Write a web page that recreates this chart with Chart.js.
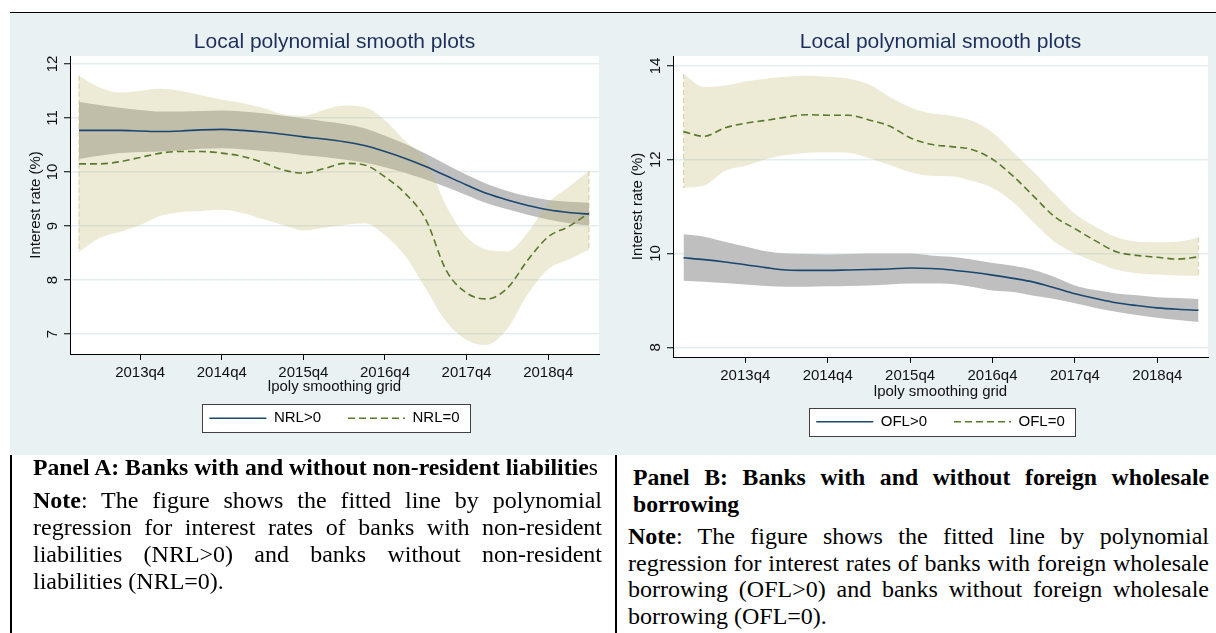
<!DOCTYPE html>
<html>
<head>
<meta charset="utf-8">
<script src="https://cdn.jsdelivr.net/npm/chart.js@4.4.1/dist/chart.umd.min.js"></script>
<style>
  html, body { margin: 0; padding: 0; background: #fff; }
  body { width: 1216px; height: 633px; position: relative; overflow: hidden; }
  .rule-top { position: absolute; left: 10px; top: 12px; width: 1206px; height: 1px; background: #000; }
  .panel { position: absolute; top: 13px; width: 603px; height: 442px; background: rgb(233,241,243); }
  .panel canvas { display: block; }
  .vrule { position: absolute; top: 455px; width: 2px; height: 178px; background: #000; }
  .cap { position: absolute; font-family: "Liberation Serif", "Times New Roman", serif; color: #000; font-size: 24px; line-height: 27px; }
  .cap .ln { white-space: nowrap; }
  .cap .j { text-align: justify; text-align-last: justify; }
  .cap .ttl { font-size: 23.7px; }
</style>
</head>
<body>
<div class="rule-top"></div>
<div class="panel" style="left:10px;"><canvas id="panelA" width="603" height="442"></canvas></div>
<div class="panel" style="left:613px;"><canvas id="panelB" width="603" height="442"></canvas></div>
<div class="vrule" style="left:10px;"></div>
<div class="vrule" style="left:615px;"></div>

<div class="cap" style="left:33px;top:454px;width:569px;">
  <div class="ln ttl"><b>Panel A: Banks with and without non-resident liabilitie</b>s</div>
</div>
<div class="cap" style="left:33px;top:487px;width:569px;">
  <div class="j"><b>Note</b>: The figure shows the fitted line by polynomial</div>
  <div class="j">regression for interest rates of banks with non-resident</div>
  <div class="j">liabilities (NRL&gt;0) and banks without non-resident</div>
  <div class="ln">liabilities (NRL=0).</div>
</div>

<div class="cap" style="left:633px;top:464px;width:576px;">
  <div class="j ttl"><b>Panel B: Banks with and without foreign wholesale</b></div>
  <div class="ln ttl"><b>borrowing</b></div>
</div>
<div class="cap" style="left:628px;top:523px;width:581px;line-height:26.7px;">
  <div class="j"><b>Note</b>: The figure shows the fitted line by polynomial</div>
  <div class="j">regression for interest rates of banks with foreign wholesale</div>
  <div class="j">borrowing (OFL&gt;0) and banks without foreign wholesale</div>
  <div class="ln">borrowing (OFL=0).</div>
</div>

<script>
// Smoothing grid: quarters counted from 2013q1 (0) to 2019q2 (25)
const gridQuarter = [0, 1, 2, 3, 4, 5, 6, 7, 8, 9, 10, 11, 12, 13, 14, 15, 16, 17, 18, 19, 20, 21, 22, 23, 24, 25];
const xTickQuarter = [3, 7, 11, 15, 19, 23];
const xTickLabels = ['2013q4', '2014q4', '2015q4', '2016q4', '2017q4', '2018q4'];

// Panel A: non-resident liabilities
const nrlPosFit = [10.77, 10.77, 10.77, 10.76, 10.75, 10.76, 10.78, 10.79, 10.77, 10.74, 10.70, 10.65, 10.61, 10.56, 10.49, 10.38, 10.25, 10.10, 9.93, 9.76, 9.60, 9.48, 9.38, 9.30, 9.25, 9.22];
const nrlPosHi  = [11.30, 11.24, 11.19, 11.15, 11.12, 11.12, 11.13, 11.14, 11.12, 11.09, 11.04, 10.99, 10.94, 10.89, 10.81, 10.67, 10.52, 10.34, 10.14, 9.95, 9.78, 9.65, 9.55, 9.48, 9.45, 9.43];
const nrlPosLo  = [10.24, 10.30, 10.35, 10.37, 10.38, 10.40, 10.43, 10.44, 10.42, 10.39, 10.36, 10.31, 10.28, 10.23, 10.17, 10.09, 9.98, 9.86, 9.72, 9.57, 9.42, 9.31, 9.21, 9.12, 9.05, 9.01];
const nrlZeroFit = [10.15, 10.15, 10.19, 10.27, 10.35, 10.38, 10.38, 10.35, 10.29, 10.18, 10.04, 9.98, 10.06, 10.16, 10.13, 9.91, 9.60, 9.12, 8.18, 7.76, 7.65, 7.85, 8.37, 8.80, 8.99, 9.24];
const nrlZeroHi  = [11.78, 11.57, 11.47, 11.50, 11.54, 11.50, 11.42, 11.34, 11.28, 11.19, 11.07, 11.04, 11.15, 11.23, 11.20, 10.96, 10.57, 10.22, 9.37, 8.80, 8.56, 8.53, 8.88, 9.42, 9.72, 10.02];
const nrlZeroLo  = [8.52, 8.78, 8.89, 9.02, 9.19, 9.26, 9.28, 9.30, 9.24, 9.13, 9.02, 8.92, 8.97, 9.02, 9.05, 8.83, 8.44, 7.84, 7.23, 6.89, 6.80, 7.10, 7.74, 8.20, 8.38, 8.56];
const panelATicks = [7, 8, 9, 10, 11, 12];

// Panel B: foreign wholesale borrowing
const oflPosFit = [9.91, 9.87, 9.82, 9.76, 9.70, 9.65, 9.64, 9.64, 9.65, 9.66, 9.67, 9.69, 9.68, 9.65, 9.60, 9.54, 9.47, 9.39, 9.27, 9.14, 9.04, 8.95, 8.89, 8.84, 8.81, 8.79];
const oflPosHi  = [10.41, 10.36, 10.25, 10.15, 10.05, 10.00, 9.99, 9.98, 9.99, 10.00, 10.00, 10.00, 9.96, 9.93, 9.87, 9.80, 9.74, 9.65, 9.50, 9.32, 9.22, 9.15, 9.11, 9.07, 9.05, 9.03];
const oflPosLo  = [9.42, 9.40, 9.37, 9.34, 9.31, 9.29, 9.29, 9.30, 9.31, 9.32, 9.34, 9.36, 9.36, 9.35, 9.29, 9.21, 9.18, 9.10, 9.03, 8.94, 8.84, 8.76, 8.69, 8.63, 8.58, 8.54];
const oflZeroFit = [12.60, 12.50, 12.68, 12.78, 12.84, 12.91, 12.96, 12.95, 12.95, 12.85, 12.72, 12.47, 12.33, 12.28, 12.22, 12.01, 11.65, 11.22, 10.79, 10.53, 10.27, 10.04, 9.96, 9.92, 9.88, 9.93];
const oflZeroHi  = [13.83, 13.55, 13.58, 13.67, 13.73, 13.77, 13.79, 13.77, 13.73, 13.61, 13.34, 13.12, 12.99, 12.94, 12.83, 12.58, 12.16, 11.74, 11.28, 10.85, 10.57, 10.35, 10.25, 10.24, 10.25, 10.34];
const oflZeroLo  = [11.40, 11.45, 11.76, 11.87, 12.01, 12.10, 12.15, 12.16, 12.15, 12.04, 11.89, 11.74, 11.66, 11.65, 11.55, 11.40, 11.10, 10.66, 10.25, 10.00, 9.82, 9.66, 9.58, 9.55, 9.53, 9.52];
const panelBTicks = [8, 10, 12, 14];

const NAVY = '#1a476f';
const OLIVE = '#587a2c';
const BAND_GRAY = '#bfbfbf';
const BAND_BEIGE = 'rgba(195,185,120,0.30)';
const BAND_BEIGE_EDGE = 'rgba(200,188,130,0.55)';
const GRID = 'rgb(228,237,240)';
const TITLE_COLOR = '#1e2e5c';
const SANS = '"Liberation Sans", Arial, Helvetica, sans-serif';

Chart.defaults.font.family = SANS;
Chart.defaults.color = '#111';

// White plot region and boxed, white legend
const panelFrame = {
  id: 'panelFrame',
  beforeDraw(chart) {
    const { ctx, chartArea: a } = chart;
    ctx.save();
    ctx.fillStyle = '#fff';
    ctx.fillRect(a.left, a.top, a.right - a.left, a.bottom - a.top);
    const boxes = chart.legend && chart.legend.legendHitBoxes;
    if (boxes && boxes.length) {
      const first = boxes[0], last = boxes[boxes.length - 1];
      const x0 = Math.round(first.left - 7) + 0.5;
      const x1 = Math.round(last.left + last.width + 10) + 0.5;
      const cy = first.top + first.height / 2;
      const y0 = Math.round(cy - 14) + 0.5;
      ctx.fillRect(x0, y0, x1 - x0, 28);
      ctx.strokeStyle = '#404040';
      ctx.lineWidth = 1;
      ctx.strokeRect(x0, y0, x1 - x0, 28);
    }
    ctx.restore();
  }
};

// Dashed closing edges at both ends of the wide confidence band
const bandEdges = {
  id: 'bandEdges',
  afterDatasetDraw(chart, args) {
    if (args.index !== 3) return;
    const hi = chart.data.datasets[2].data;
    const lo = chart.data.datasets[3].data;
    const xs = chart.scales.x, ys = chart.scales.y;
    const ctx = chart.ctx;
    ctx.save();
    ctx.strokeStyle = BAND_BEIGE_EDGE;
    ctx.lineWidth = 1.3;
    ctx.setLineDash([5, 3]);
    [0, hi.length - 1].forEach(i => {
      const px = xs.getPixelForValue(hi[i].x);
      ctx.beginPath();
      ctx.moveTo(px, ys.getPixelForValue(hi[i].y));
      ctx.lineTo(px, ys.getPixelForValue(lo[i].y));
      ctx.stroke();
    });
    ctx.restore();
  }
};

function toPoints(values) {
  return gridQuarter.map((q, i) => ({ x: q, y: values[i] }));
}

function band(values, color, fillTarget, order) {
  return {
    label: '',
    data: toPoints(values),
    borderWidth: 0,
    pointRadius: 0,
    backgroundColor: color,
    fill: fillTarget,
    order: order,
    cubicInterpolationMode: 'monotone'
  };
}

function fitLine(label, values, color, dash) {
  return {
    label: label,
    data: toPoints(values),
    borderColor: color,
    borderWidth: 1.6,
    borderDash: dash,
    pointRadius: 0,
    fill: false,
    order: 0,
    legendLine: true,
    cubicInterpolationMode: 'monotone'
  };
}

function buildPanel(id, s) {
  const datasets = [
    band(s.posHi, BAND_GRAY, '+1', 6),
    band(s.posLo, BAND_GRAY, false, 6),
    band(s.zeroHi, BAND_BEIGE, '+1', 5),
    band(s.zeroLo, BAND_BEIGE, false, 5),
    fitLine(s.posLabel, s.posFit, NAVY, []),
    fitLine(s.zeroLabel, s.zeroFit, OLIVE, [7, 4])
  ];

  new Chart(document.getElementById(id), {
    type: 'line',
    data: { datasets },
    plugins: [panelFrame, bandEdges],
    options: {
      responsive: false,
      animation: false,
      events: [],
      layout: { autoPadding: false, padding: { top: 0, left: 0, right: s.padRight, bottom: s.padBottom } },
      plugins: {
        tooltip: { enabled: false },
        title: {
          display: true,
          fullSize: false,
          text: 'Local polynomial smooth plots',
          color: TITLE_COLOR,
          font: { size: 21, weight: 'normal', family: SANS },
          padding: { top: 16.4, bottom: 1.4 }
        },
        legend: {
          display: true,
          position: 'bottom',
          fullSize: false,
          labels: {
            font: { size: 15, family: SANS },
            color: '#111',
            usePointStyle: true,
            pointStyleWidth: 57,
            padding: 27,
            generateLabels(chart) {
              return chart.data.datasets
                .map((ds, i) => ({ ds, i }))
                .filter(o => o.ds.legendLine)
                .map(o => ({
                  text: o.ds.label,
                  datasetIndex: o.i,
                  pointStyle: 'line',
                  strokeStyle: o.ds.borderColor,
                  fillStyle: o.ds.borderColor,
                  lineWidth: 1.6,
                  lineDash: o.ds.borderDash,
                  hidden: false
                }));
            }
          }
        }
      },
      scales: {
        x: {
          type: 'linear',
          position: 'bottom',
          min: s.xMin,
          max: s.xMax,
          afterBuildTicks: (sc) => { sc.ticks = xTickQuarter.map(v => ({ value: v })); },
          afterFit: (sc) => { sc.height = s.xHeight; },
          ticks: {
            autoSkip: false,
            maxRotation: 0,
            padding: s.xTickPad,
            color: '#111',
            font: { size: 15 },
            callback: (v) => xTickLabels[xTickQuarter.indexOf(v)]
          },
          grid: { drawOnChartArea: false, drawTicks: true, tickLength: 6, tickColor: '#000', tickWidth: 1 },
          border: { display: true, color: '#000', width: 1 },
          title: {
            display: true,
            text: 'lpoly smoothing grid',
            color: '#111',
            font: { size: 15 },
            padding: { top: 0, bottom: s.xTitlePad }
          }
        },
        y: {
          type: 'linear',
          position: 'left',
          min: s.yMin,
          max: s.yMax,
          afterBuildTicks: (sc) => { sc.ticks = s.yTicks.map(v => ({ value: v })); },
          afterFit: (sc) => { sc.width = 60; },
          ticks: {
            autoSkip: false,
            minRotation: 90,
            maxRotation: 90,
            crossAlign: 'center',
            padding: 3,
            color: '#111',
            font: { size: 15 }
          },
          grid: { color: GRID, lineWidth: 1.5, drawTicks: true, tickLength: 6, tickColor: '#000', tickWidth: 1 },
          border: { display: true, color: '#000', width: 1 },
          title: {
            display: true,
            text: 'Interest rate (%)',
            color: '#111',
            font: { size: 15 },
            padding: { top: s.yTitlePad, bottom: 0 }
          }
        }
      }
    }
  });
}

buildPanel('panelA', {
  posLabel: 'NRL>0', zeroLabel: 'NRL=0',
  posFit: nrlPosFit, posHi: nrlPosHi, posLo: nrlPosLo,
  zeroFit: nrlZeroFit, zeroHi: nrlZeroHi, zeroLo: nrlZeroLo,
  yTicks: panelATicks, yMin: 6.63, yMax: 12.148,
  xMin: -0.44, xMax: 25.49,
  padRight: 14, padBottom: 19.2,
  xHeight: 29.8, xTickPad: 3.5, xTitlePad: -12.2, yTitlePad: 16.5
});

buildPanel('panelB', {
  posLabel: 'OFL>0', zeroLabel: 'OFL=0',
  posFit: oflPosFit, posHi: oflPosHi, posLo: oflPosLo,
  zeroFit: oflZeroFit, zeroHi: oflZeroHi, zeroLo: oflZeroLo,
  yTicks: panelBTicks, yMin: 7.793, yMax: 14.213,
  xMin: -0.51, xMax: 25.46,
  padRight: 8, padBottom: 15.8,
  xHeight: 30.2, xTickPad: 4, xTitlePad: -13.5, yTitlePad: 16
});
</script>
</body>
</html>
